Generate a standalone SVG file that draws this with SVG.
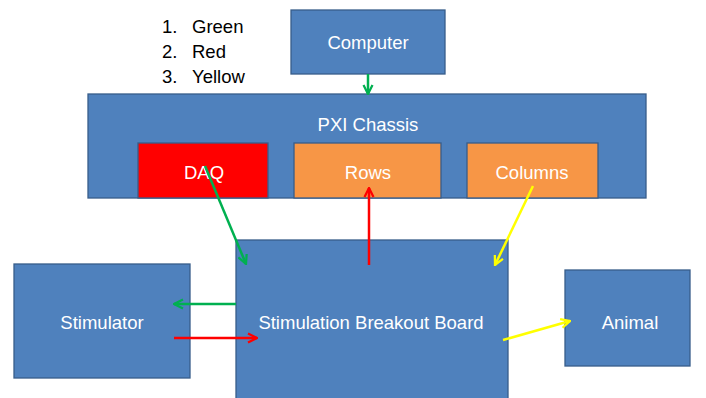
<svg xmlns="http://www.w3.org/2000/svg" width="706" height="398" viewBox="0 0 706 398">
  <style>
    .box { fill: #4F81BD; stroke: #385D8A; stroke-width: 1.3; }
    .daq { fill: #FF0000; stroke: #385D8A; stroke-width: 1.3; }
    .org { fill: #F79646; stroke: #385D8A; stroke-width: 1.3; }
    .lbl { font-family: "Liberation Sans", "DejaVu Sans", sans-serif; font-size: 18.5px; fill: #FFFFFF; text-anchor: middle; dominant-baseline: central; }
    .lst { font-family: "Liberation Sans", "DejaVu Sans", sans-serif; font-size: 18.5px; fill: #000000; }
    .g { stroke: #00B050; }
    .r { stroke: #FF0000; }
    .y { stroke: #FFFF00; }
    .c line { stroke-width: 2.5; fill: none; }
  </style>
  <defs>
    <marker id="ag" viewBox="0 0 10 10" refX="9" refY="5" markerWidth="4.5" markerHeight="4.5" orient="auto" markerUnits="strokeWidth">
      <polyline points="1,1 9,5 1,9" fill="none" stroke="#00B050" stroke-width="2"/>
    </marker>
    <marker id="ar" viewBox="0 0 10 10" refX="9" refY="5" markerWidth="4.5" markerHeight="4.5" orient="auto" markerUnits="strokeWidth">
      <polyline points="1,1 9,5 1,9" fill="none" stroke="#FF0000" stroke-width="2"/>
    </marker>
    <marker id="ay" viewBox="0 0 10 10" refX="9" refY="5" markerWidth="4.5" markerHeight="4.5" orient="auto" markerUnits="strokeWidth">
      <polyline points="1,1 9,5 1,9" fill="none" stroke="#FFFF00" stroke-width="2"/>
    </marker>
  </defs>

  <g id="legend">
    <text class="lst" x="162" y="33">1.</text><text class="lst" x="192" y="33">Green</text>
    <text class="lst" x="162" y="58">2.</text><text class="lst" x="192" y="58">Red</text>
    <text class="lst" x="162" y="83">3.</text><text class="lst" x="192" y="83">Yellow</text>
  </g>

  <g id="computer">
    <rect class="box" x="291" y="10" width="154" height="64"/>
    <text class="lbl" x="368" y="42">Computer</text>
  </g>

  <g id="pxi-chassis">
    <rect class="box" x="88" y="94" width="558" height="104"/>
    <text class="lbl" x="368" y="124">PXI Chassis</text>
  </g>

  <g id="daq">
    <rect class="daq" x="138" y="143" width="130" height="55"/>
    <text class="lbl" x="204" y="172">DAQ</text>
  </g>

  <g id="rows">
    <rect class="org" x="294" y="143" width="147" height="55"/>
    <text class="lbl" x="368" y="172">Rows</text>
  </g>

  <g id="columns">
    <rect class="org" x="467" y="143" width="131" height="55"/>
    <text class="lbl" x="532" y="172">Columns</text>
  </g>

  <g id="stimulator">
    <rect class="box" x="14" y="264" width="176" height="114"/>
    <text class="lbl" x="102" y="322">Stimulator</text>
  </g>

  <g id="breakout-board">
    <rect class="box" x="236" y="240" width="272" height="162"/>
    <text class="lbl" x="371" y="322">Stimulation Breakout Board</text>
  </g>

  <g id="animal">
    <rect class="box" x="565" y="270" width="125" height="96"/>
    <text class="lbl" x="630" y="322">Animal</text>
  </g>

  <g id="connectors" class="c">
    <line class="g" x1="368" y1="74" x2="368" y2="94" marker-end="url(#ag)"/>
    <line class="g" x1="205" y1="166" x2="246" y2="264" marker-end="url(#ag)"/>
    <line class="r" x1="369" y1="265" x2="369" y2="188" marker-end="url(#ar)"/>
    <line class="y" x1="533" y1="186" x2="495" y2="265" marker-end="url(#ay)"/>
    <line class="g" x1="236" y1="304" x2="174" y2="304" marker-end="url(#ag)"/>
    <line class="r" x1="174" y1="338" x2="257" y2="338" marker-end="url(#ar)"/>
    <line class="y" x1="503" y1="340" x2="570" y2="321" marker-end="url(#ay)"/>
  </g>
</svg>
